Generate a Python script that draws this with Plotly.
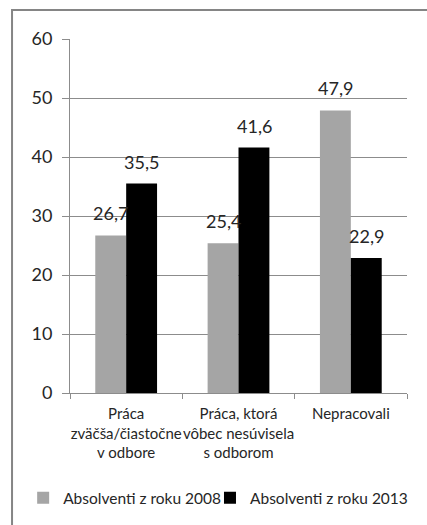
import plotly.graph_objects as go

# Podiel absolventov podľa vzťahu práce k odboru (%)
categories = [
    "Práca<br>zväčša/čiastočne<br>v odbore",
    "Práca, ktorá<br>vôbec nesúvisela<br>s odborom",
    "Nepracovali",
]
series_names = ["Absolventi z roku 2008", "Absolventi z roku 2013"]
values_2008 = [26.7, 25.4, 47.9]
values_2013 = [35.5, 41.6, 22.9]
y_ticks = [0, 10, 20, 30, 40, 50, 60]

FONT = "Lato"
TEXT = "#262626"
GRID = "#8c8c8c"
colors = ["#a5a5a5", "#000000"]
legend_ids = ["legend", "legend2"]

fig = go.Figure()
for name, vals, col, lg in zip(series_names, [values_2008, values_2013], colors, legend_ids):
    fig.add_trace(go.Bar(
        x=categories, y=vals, name=name, legend=lg,
        marker=dict(color=col, line=dict(width=0)),
    ))

# data labels above each bar, decimal comma
annotations = []
for vals, shift in [(values_2008, -15.5), (values_2013, 15.5)]:
    for cat, v in zip(categories, vals):
        annotations.append(dict(
            x=cat, y=v, xref="x", yref="y",
            text=f"{v:.1f}".replace(".", ","),
            showarrow=False, xshift=shift, yshift=22,
            font=dict(family=FONT, size=18, color=TEXT),
        ))

legend_style = dict(
    orientation="h", y=-0.297, xanchor="left", yanchor="middle",
    font=dict(family=FONT, size=15.5, color=TEXT),
    itemwidth=30, bgcolor="rgba(0,0,0,0)",
)

fig.update_layout(
    width=427, height=525,
    margin=dict(l=70, r=20, t=39, b=132, autoexpand=False),
    paper_bgcolor="white", plot_bgcolor="white",
    barmode="group", bargap=0.45, bargroupgap=0,
    font=dict(family=FONT, color=TEXT),
    showlegend=True,
    legend=dict(x=-0.139, **legend_style),
    legend2=dict(x=0.4154, **legend_style),
    annotations=annotations,
    shapes=[dict(
        type="rect", xref="paper", yref="paper",
        x0=-0.172, x1=1.2, y0=-0.5, y1=1.082,
        line=dict(color="#858585", width=2), fillcolor="rgba(0,0,0,0)",
        layer="below",
    )],
)
fig.update_xaxes(
    showline=True, linecolor=GRID, linewidth=1,
    ticks="outside", tickson="boundaries", ticklen=5, tickcolor=GRID,
    tickfont=dict(family=FONT, size=15, color=TEXT),
    tickangle=0, showgrid=False, ticklabelstandoff=7,
)
fig.update_yaxes(
    range=[0, 60], tickvals=y_ticks,
    showline=True, linecolor=GRID, linewidth=1,
    ticks="outside", ticklen=7, tickcolor=GRID,
    showgrid=True, gridcolor=GRID, gridwidth=1,
    zeroline=False,
    tickfont=dict(family=FONT, size=18, color=TEXT),
    ticklabelstandoff=6,
)

fig.write_html("out.html")
